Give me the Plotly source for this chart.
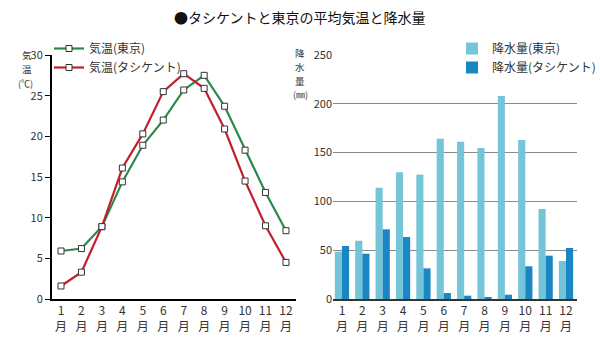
import plotly.graph_objects as go

months = list(range(1, 13))
month_labels = [f"{m}<br>月" for m in months]
temp_tokyo = [5.9, 6.2, 8.9, 14.4, 18.9, 22.0, 25.7, 27.5, 23.7, 18.3, 13.1, 8.4]
temp_tashkent = [1.6, 3.3, 8.9, 16.1, 20.3, 25.5, 27.7, 25.9, 20.9, 14.5, 9.0, 4.5]
rain_tokyo = [48.5, 59.7, 114.0, 129.8, 127.4, 164.3, 161.2, 154.7, 208.0, 163.0, 92.2, 39.0]
rain_tashkent = [54.3, 46.4, 71.4, 63.5, 31.4, 6.1, 3.4, 1.4, 4.4, 33.5, 44.4, 52.3]
temp_ticks = [0, 5, 10, 15, 20, 25, 30]
rain_ticks = [0, 50, 100, 150, 200, 250]

FONT = "Noto Sans CJK JP"
GREEN = "#2a8a4a"
RED = "#c0202e"
LIGHT = "#74c5d8"
DARK = "#1a86c4"
TXT = "#333333"

fig = go.Figure()
fig.add_trace(go.Scatter(x=months, y=temp_tokyo, name="気温(東京)", mode="lines+markers",
                         line=dict(color=GREEN, width=2.2),
                         marker=dict(symbol="square", size=6, color="white", line=dict(color="#333", width=1)),
                         xaxis="x", yaxis="y", legend="legend"))
fig.add_trace(go.Scatter(x=months, y=temp_tashkent, name="気温(タシケント)", mode="lines+markers",
                         line=dict(color=RED, width=2.2),
                         marker=dict(symbol="square", size=6, color="white", line=dict(color="#333", width=1)),
                         xaxis="x", yaxis="y", legend="legend"))
fig.add_trace(go.Bar(x=months, y=rain_tokyo, name="降水量(東京)", marker=dict(color=LIGHT, line=dict(width=0)),
                     xaxis="x2", yaxis="y2", legend="legend2"))
fig.add_trace(go.Bar(x=months, y=rain_tashkent, name="降水量(タシケント)", marker=dict(color=DARK, line=dict(width=0)),
                     xaxis="x2", yaxis="y2", legend="legend2"))

H = 341.0
ydom = [(H - 299) / H, (H - 55) / H]


def ann(text, x, y, size=9.5, color=TXT):
    return dict(text=text, x=x / 600, y=1 - y / H, xref="paper", yref="paper", showarrow=False,
                font=dict(size=size, color=color), xanchor="center", yanchor="middle")


annotations = [ann("●タシケントと東京の平均気温と降水量", 300, 17, 14, "#111")]
annotations += [ann("気", 27, 55), ann("温", 27, 69), ann("(℃)", 25, 83, 9)]
annotations += [ann("降", 300, 53), ann("水", 300, 67), ann("量", 300, 81), ann("(㎜)", 300, 95, 9)]

fig.update_layout(
    width=600, height=341,
    margin=dict(l=0, r=0, t=0, b=0, autoexpand=False),
    paper_bgcolor="white", plot_bgcolor="white",
    font=dict(family=FONT, color=TXT, size=12),
    barmode="group", bargap=0.3, bargroupgap=0,
    showlegend=True,
    xaxis=dict(domain=[52 / 600, 296 / 600], range=[0.56, 12.49], tickvals=months, ticktext=month_labels,
               showline=True, linecolor="black", linewidth=2, ticks="", showgrid=False, zeroline=False,
               tickfont=dict(size=12, color=TXT), anchor="y", automargin=False),
    yaxis=dict(domain=ydom, range=[0, 30], tickvals=temp_ticks, showline=True, linecolor="black", linewidth=2,
               ticks="outside", ticklen=5, tickcolor="black", showgrid=False, zeroline=False,
               tickfont=dict(size=11, color=TXT), anchor="x", automargin=False),
    xaxis2=dict(domain=[333 / 600, 577 / 600], range=[0.56, 12.54], tickvals=months, ticktext=month_labels,
                showline=True, linecolor="#333", linewidth=1.5, ticks="", showgrid=False, zeroline=False,
                tickfont=dict(size=12, color=TXT), anchor="y2", automargin=False),
    yaxis2=dict(domain=ydom, range=[0, 250], tickvals=rain_ticks, showline=False, ticks="",
                showgrid=True, gridcolor="#8a8a8a", gridwidth=1, zeroline=False,
                tickfont=dict(size=11, color=TXT), anchor="x2", automargin=False),
    legend=dict(x=49 / 600, y=1 - 34 / H, xanchor="left", yanchor="top", bgcolor="rgba(0,0,0,0)",
                font=dict(size=12, color=TXT), tracegroupgap=0, itemwidth=30),
    legend2=dict(x=452 / 600, y=1 - 34 / H, xanchor="left", yanchor="top", bgcolor="rgba(0,0,0,0)",
                 font=dict(size=12, color=TXT), tracegroupgap=0, itemwidth=30),
    annotations=annotations,
)

fig.write_html("out.html")
